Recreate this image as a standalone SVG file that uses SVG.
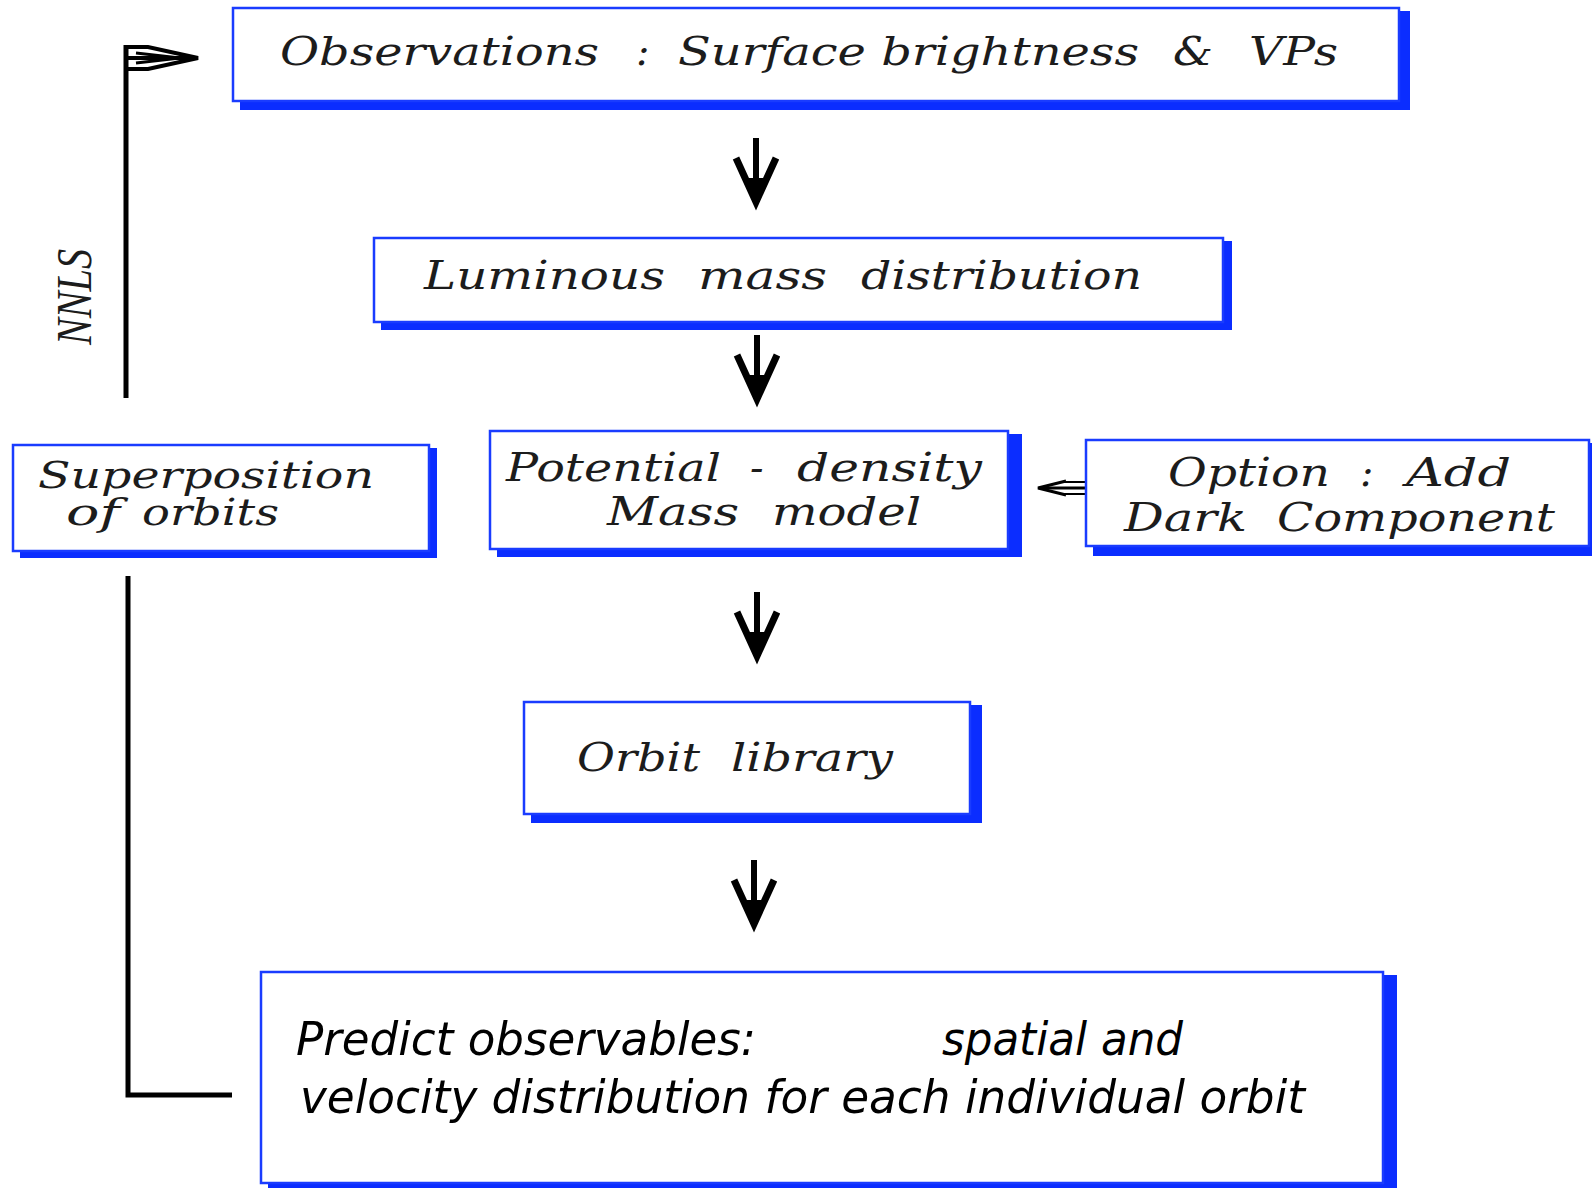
<svg xmlns="http://www.w3.org/2000/svg" width="1592" height="1188" viewBox="0 0 1592 1188">
<style>
.sh{fill:#0b2dff}
.bx{fill:#fff;stroke:#1a3cff;stroke-width:2.5}
.t{font-family:"DejaVu Serif","Liberation Serif",serif;font-style:italic;font-size:40px;fill:#1c1c1c}
.c{font-family:"DejaVu Sans Condensed","DejaVu Sans",sans-serif;font-style:italic;font-size:46px;fill:#000}
.ln{stroke:#000;stroke-width:5;fill:none}
.hd{stroke:#000;stroke-width:7;fill:none;stroke-linejoin:miter}
</style>
<defs>
<g id="dn">
<line x1="0" y1="0" x2="0" y2="62" stroke="#000" stroke-width="6"/>
<path d="M-20,20 L0,64 L20,20" class="hd"/>
<polygon points="-9,40 0,66 9,40" fill="#000"/>
</g>
</defs>
<rect width="1592" height="1188" fill="#fff"/>

<g id="connectors">
<use href="#dn" x="756" y="138"/>
<use href="#dn" x="757" y="335"/>
<use href="#dn" x="757" y="592"/>
<use href="#dn" x="754" y="860"/>
<line x1="126" y1="398" x2="126" y2="45" class="ln"/>
<line x1="124" y1="58" x2="196" y2="58" stroke="#000" stroke-width="4"/>
<path d="M124,47 L148,47 L198,58 L148,69 L124,69" stroke="#000" stroke-width="4" fill="none"/>
<path d="M136,53 L180,58 L136,63" stroke="#000" stroke-width="3" fill="none"/>
<polyline points="128,576 128,1095 232,1095" class="ln"/>
<line x1="1086" y1="488" x2="1040" y2="488" stroke="#000" stroke-width="3"/>
<path d="M1066,481 L1038,488 L1066,495" stroke="#000" stroke-width="3" fill="none"/>
<path d="M1086,482 L1060,482 M1086,494 L1060,494" stroke="#000" stroke-width="2" fill="none"/>
<text class="t" transform="translate(91,297) rotate(-90)" text-anchor="middle" style="font-family:'Liberation Serif',serif;font-size:50px" textLength="96" lengthAdjust="spacingAndGlyphs">NNLS</text>
</g>

<g id="observations">
<rect class="sh" x="240" y="11" width="1170" height="99"/>
<rect class="bx" x="233" y="8" width="1166" height="93"/>
<text class="t" y="65"><tspan x="280" textLength="319" lengthAdjust="spacingAndGlyphs">Observations</tspan><tspan x="636">:</tspan><tspan x="678" textLength="461" lengthAdjust="spacingAndGlyphs">Surface brightness</tspan><tspan x="1173" textLength="40" lengthAdjust="spacingAndGlyphs">&amp;</tspan><tspan x="1249" textLength="89" lengthAdjust="spacingAndGlyphs">VPs</tspan></text>
</g>

<g id="luminous">
<rect class="sh" x="381" y="241" width="851" height="89"/>
<rect class="bx" x="374" y="238" width="849" height="84"/>
<text class="t" y="289"><tspan x="424" textLength="241" lengthAdjust="spacingAndGlyphs">Luminous</tspan><tspan x="698" textLength="129" lengthAdjust="spacingAndGlyphs">mass</tspan><tspan x="861" textLength="281" lengthAdjust="spacingAndGlyphs">distribution</tspan></text>
</g>

<g id="superposition">
<rect class="sh" x="20" y="448" width="417" height="110"/>
<rect class="bx" x="13" y="445" width="416" height="106"/>
<text class="t" style="font-size:37px"><tspan x="38" y="488" textLength="336" lengthAdjust="spacingAndGlyphs">Superposition</tspan><tspan x="66" y="525" textLength="54" lengthAdjust="spacingAndGlyphs">of</tspan><tspan x="142" y="525" textLength="137" lengthAdjust="spacingAndGlyphs">orbits</tspan></text>
</g>

<g id="potential">
<rect class="sh" x="497" y="434" width="525" height="123"/>
<rect class="bx" x="490" y="431" width="518" height="118"/>
<text class="t"><tspan x="506" y="481" textLength="215" lengthAdjust="spacingAndGlyphs">Potential</tspan><tspan x="750" y="481">-</tspan><tspan x="797" y="481" textLength="185" lengthAdjust="spacingAndGlyphs">density</tspan><tspan x="607" y="525" textLength="132" lengthAdjust="spacingAndGlyphs">Mass</tspan><tspan x="772" y="525" textLength="149" lengthAdjust="spacingAndGlyphs">model</tspan></text>
</g>

<g id="option">
<rect class="sh" x="1093" y="443" width="499" height="113"/>
<rect class="bx" x="1086" y="440" width="503" height="106"/>
<text class="t"><tspan x="1168" y="486" textLength="162" lengthAdjust="spacingAndGlyphs">Option</tspan><tspan x="1360" y="486">:</tspan><tspan x="1406" y="486" textLength="105" lengthAdjust="spacingAndGlyphs">Add</tspan><tspan x="1124" y="531" textLength="123" lengthAdjust="spacingAndGlyphs">Dark</tspan><tspan x="1277" y="531" textLength="278" lengthAdjust="spacingAndGlyphs">Component</tspan></text>
</g>

<g id="orbit-library">
<rect class="sh" x="531" y="705" width="451" height="118"/>
<rect class="bx" x="524" y="702" width="446" height="112"/>
<text class="t" y="771"><tspan x="577" textLength="123" lengthAdjust="spacingAndGlyphs">Orbit</tspan><tspan x="731" textLength="162" lengthAdjust="spacingAndGlyphs">library</tspan></text>
</g>

<g id="predict">
<rect class="sh" x="268" y="975" width="1129" height="215"/>
<rect class="bx" x="261" y="972" width="1122" height="211"/>
<text class="c"><tspan x="296" y="1055" textLength="460" lengthAdjust="spacingAndGlyphs">Predict observables:</tspan><tspan x="942" y="1055" textLength="241" lengthAdjust="spacingAndGlyphs">spatial and</tspan><tspan x="300" y="1113" textLength="1005" lengthAdjust="spacingAndGlyphs">velocity distribution for each individual orbit</tspan></text>
</g>
</svg>
